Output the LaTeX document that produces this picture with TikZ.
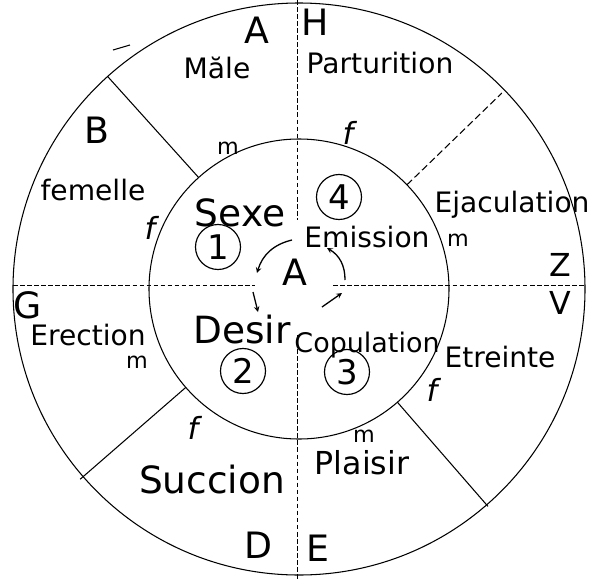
\documentclass[tikz,border=0pt]{standalone}
\usepackage{fontspec}
\setmainfont{DejaVu Sans}
\usepackage{tikz}
\usetikzlibrary{arrows,positioning,calc}

\begin{document}
\begin{tikzpicture}[
    x=0.03cm, y=0.03cm,
    lbl/.style={font=\fontsize{24}{26}\selectfont, inner sep=0pt},
    big/.style={font=\fontsize{32}{34}\selectfont, inner sep=0pt},
    letter/.style={font=\fontsize{31}{33}\selectfont, inner sep=0pt},
    mtag/.style={font=\fontsize{19}{21}\selectfont, inner sep=0pt},
    ftag/.style={font=\itshape\fontsize{26}{28}\selectfont, inner sep=0pt},
    num/.style={circle, draw, line width=1pt, minimum size=1.35cm, inner sep=0pt, font=\fontsize{29}{31}\selectfont},
    ray/.style={line width=0.9pt},
    diam/.style={line width=0.7pt, dash pattern=on 4pt off 2pt},
    arr/.style={->, >=stealth, line width=1.1pt},
]
\useasboundingbox (-299,289) rectangle (299,-292);

% Circles
\coordinate (O) at (0,0);
\draw[ray] (O) circle (286);
\draw[ray] (O) circle (150);

% Diameters (dotted)
\coordinate (top) at (-2,289);
\coordinate (topin) at (-2,69);
\coordinate (botin) at (-2,-46);
\coordinate (bot) at (-2,-292);
\coordinate (left) at (-286,4);
\coordinate (leftin) at (-44,4);
\coordinate (rightin) at (34,4);
\coordinate (right) at (286,4);
\draw[diam] (top) -- (topin);
\draw[diam] (botin) -- (bot);
\draw[diam] (left) -- (leftin);
\draw[diam] (rightin) -- (right);

% Rays between the two circles
\coordinate (i1) at (132:150); \coordinate (o1) at (132:286);
\coordinate (i2) at (44:150);  \coordinate (o2) at (44:282);
\coordinate (i3) at (221:150); \coordinate (o3) at (221:290);
\coordinate (i4) at (311:150); \coordinate (o4) at (311:288);
\draw[ray] (i1) -- (o1);
\draw[ray, dash pattern=on 6pt off 3pt] (i2) -- (o2);
\draw[ray] (i3) -- (o3);
\draw[ray] (i4) -- (o4);

% stray stroke, top left
\coordinate (s1) at (-186,239);
\coordinate (s2) at (-169,244);
\draw[ray] (s1) -- (s2);

% Outer ring — top
\node[letter] (A) at (-42,259) {A};
\node[lbl] (male) at (-82,221) {Măle};
\node[letter] (H) at (16,267) {H};
\node[lbl] (part) at (81,226) {Parturition};

% Outer ring — left
\node[letter] (B) at (-202,159) {B};
\node[lbl] (fem) at (-206,99) {femelle};
\node[ftag] (fB) at (-149,61) {f};
\node[letter] (G) at (-271,-16) {G};
\node[lbl] (erec) at (-211,-46) {Erection};
\node[mtag] (mG) at (-162,-73) {m};

% Outer ring — right
\node[lbl] (ejac) at (213,84) {Ejaculation};
\node[mtag] (mE) at (159,49) {m};
\node[letter, font=\fontsize{27}{29}\selectfont] (Z) at (261,24) {Z};
\node[letter, font=\fontsize{27}{29}\selectfont] (V) at (261,-14) {V};
\node[lbl] (etr) at (201,-68) {Etreinte};
\node[ftag] (fE) at (133,-101) {f};

% Outer ring — bottom
\node[big] (succ) at (-87,-191) {Succion};
\node[ftag] (fS) at (-106,-139) {f};
\node[font=\fontsize{27}{29}\selectfont, inner sep=0pt] (plai) at (63,-174) {Plaisir};
\node[mtag] (mP) at (65,-147) {m};
\node[letter] (D) at (-41,-256) {D};
\node[letter] (E) at (19,-259) {E};

% Inner circle
\node[mtag] (mS) at (-71,141) {m};
\node[ftag] (fT) at (49,156) {f};
\node[big] (sexe) at (-59,76) {Sexe};
\node[num] (n1) at (-81,42) {1};
\node[num] (n4) at (40,92) {4};
\node[lbl] (emis) at (68,52) {Emission};
\node[letter] (Ac) at (-4,17) {A};
\node[big] (desir) at (-57,-41) {Desir};
\node[num] (n2) at (-56,-82) {2};
\node[font=\fontsize{23}{25}\selectfont, inner sep=0pt] (copu) at (68,-56) {Copulation};
\node[num] (n3) at (48,-83) {3};

% Cycle arrows
\coordinate (a1s) at (-7,49);  \coordinate (a1e) at (-42,16);
\coordinate (a2s) at (-46,-3); \coordinate (a2e) at (-41,-23);
\coordinate (a3s) at (23,-18); \coordinate (a3e) at (43,-4);
\coordinate (a4s) at (46,9);   \coordinate (a4e) at (28,41);
\draw[arr] (a1s) to[bend right=30] (a1e);
\draw[arr] (a2s) -- (a2e);
\draw[arr] (a3s) -- (a3e);
\draw[arr] (a4s) to[bend right=30] (a4e);
\end{tikzpicture}
\end{document}
